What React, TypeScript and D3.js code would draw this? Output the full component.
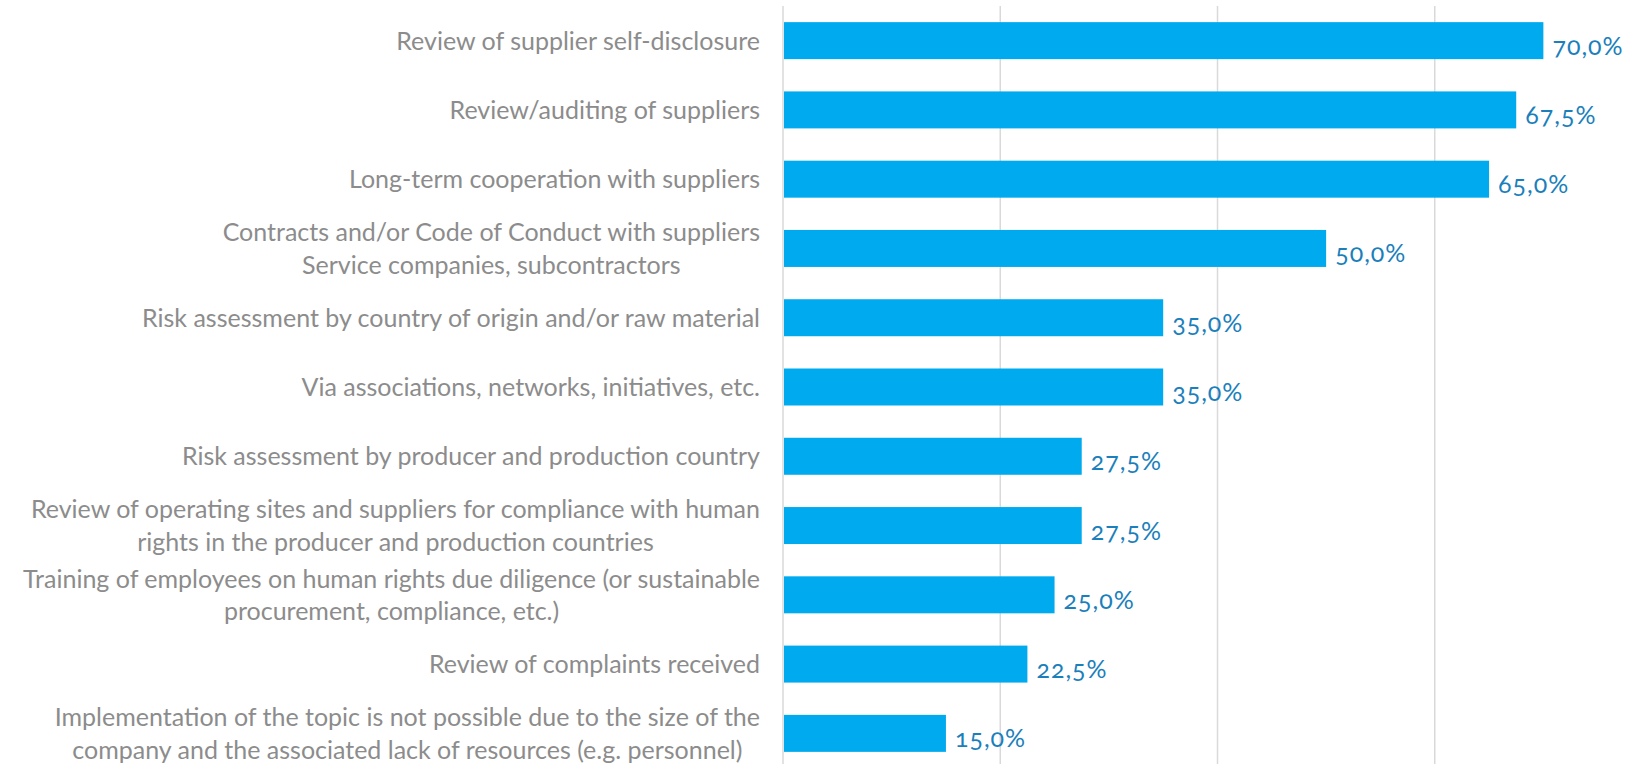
import * as d3 from 'd3';
import { useEffect, useRef } from 'react';

const categories: string[][] = [
  ['Review of supplier self-disclosure'],
  ['Review/auditing of suppliers'],
  ['Long-term cooperation with suppliers'],
  ['Contracts and/or Code of Conduct with suppliers', 'Service companies, subcontractors'],
  ['Risk assessment by country of origin and/or raw material'],
  ['Via associations, networks, initiatives, etc.'],
  ['Risk assessment by producer and production country'],
  ['Review of operating sites and suppliers for compliance with human', 'rights in the producer and production countries'],
  ['Training of employees on human rights due diligence (or sustainable', 'procurement, compliance, etc.)'],
  ['Review of complaints received'],
  ['Implementation of the topic is not possible due to the size of the', 'company and the associated lack of resources (e.g. personnel)'],
];

const values = [0.7, 0.675, 0.65, 0.5, 0.35, 0.35, 0.275, 0.275, 0.25, 0.225, 0.15];

const gridTicks = [0, 0.2, 0.4, 0.6, 0.8];

const width = 1641;
const height = 764;

const App = () => {
  const ref = useRef<SVGSVGElement>(null);

  useEffect(() => {
    const svg = d3.select(ref.current).attr('width', width).attr('height', height);
    svg.selectAll('*').remove();

    const ids = categories.map((_, i) => String(i));
    const xScale = d3.scaleLinear([0, 0.8], [783, 1652]);
    const yScale = d3.scaleBand(ids, [6, 768]).paddingInner(0.466).paddingOuter(0.233);

    // grid
    svg
      .append('g')
      .selectAll('line')
      .data(gridTicks)
      .enter()
      .append('line')
      .attr('x1', (d) => xScale(d))
      .attr('x2', (d) => xScale(d))
      .attr('y1', 6)
      .attr('y2', height)
      .attr('stroke', '#d9d9d9')
      .attr('stroke-width', 1.5);

    // bars
    svg
      .append('g')
      .selectAll('rect')
      .data(values)
      .enter()
      .append('rect')
      .attr('x', xScale(0) + 1)
      .attr('y', (_, i) => yScale(ids[i]) ?? 0)
      .attr('width', (d) => xScale(d) - xScale(0) - 1)
      .attr('height', yScale.bandwidth())
      .attr('fill', '#00aaef');

    // value labels
    const fmt = (v: number) => (v * 100).toFixed(1).replace('.', ',') + '%';
    svg
      .append('g')
      .selectAll('text')
      .data(values)
      .enter()
      .append('text')
      .attr('x', (d) => xScale(d) + 9)
      .attr('y', (_, i) => (yScale(ids[i]) ?? 0) + yScale.bandwidth() / 2 + 14)
      .attr('fill', '#1b7fbc')
      .attr('font-family', 'Lato, sans-serif')
      .attr('font-size', 25)
      .attr('letter-spacing', 1)
      .style('font-variant-numeric', 'oldstyle-nums')
      .text(fmt);

    // category labels: block right-aligned, lines centred inside the block
    const lineGap = 32.5;
    const labelRight = 760;
    const labels = svg
      .append('g')
      .attr('font-family', 'Lato, sans-serif')
      .attr('font-size', 25)
      .attr('fill', '#8c8c8c');
    categories.forEach((lines, i) => {
      const cy = (yScale(ids[i]) ?? 0) + yScale.bandwidth() / 2;
      const g = labels.append('g');
      const texts = lines.map((line, j) =>
        g
          .append('text')
          .attr('y', cy + (j - (lines.length - 1) / 2) * lineGap)
          .attr('dy', '0.36em')
          .attr('text-anchor', 'middle')
          .text(line),
      );
      const blockW = d3.max(texts, (t) => (t.node() as SVGTextElement).getComputedTextLength()) ?? 0;
      texts.forEach((t) => t.attr('x', labelRight - blockW / 2));
    });
  }, []);

  return (
    <div style={{ position: 'absolute', left: 0, top: 0 }}>
      <svg ref={ref} style={{ display: 'block', background: '#fff' }} />
    </div>
  );
};

export default App;
